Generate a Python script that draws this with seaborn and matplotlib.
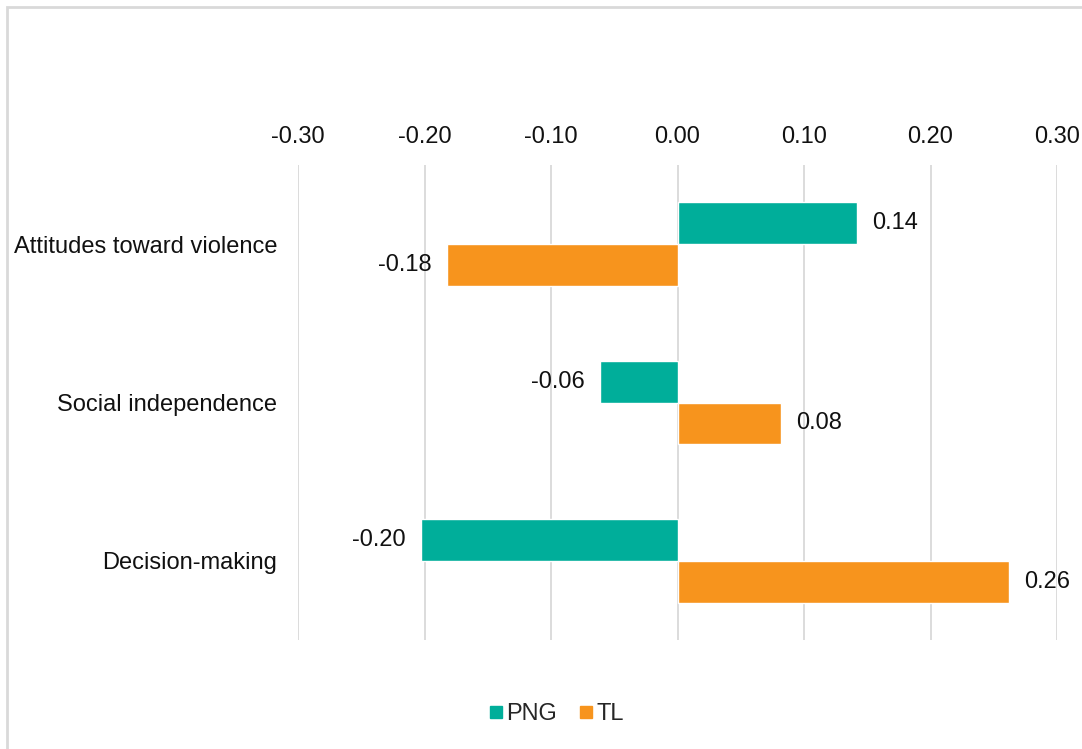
import numpy as np
import pandas as pd
import seaborn as sns
import matplotlib.pyplot as plt
from matplotlib.patches import Rectangle
from matplotlib.lines import Line2D

categories = ['Attitudes toward violence', 'Social independence', 'Decision-making']
png_vals = [0.142, -0.061, -0.203]
tl_vals = [-0.182, 0.082, 0.262]
xticks = [-0.30, -0.20, -0.10, 0.00, 0.10, 0.20, 0.30]

colors = {'PNG': '#00AE9A', 'TL': '#F7941D'}

df = pd.DataFrame({
    'category': categories * 2,
    'value': png_vals + tl_vals,
    'group': ['PNG'] * 3 + ['TL'] * 3,
})

sns.set_style("white")
plt.rcParams['font.family'] = ['Liberation Sans', 'DejaVu Sans']
fs = 17

fig = plt.figure(figsize=(10.82, 7.49), dpi=100)
ax = fig.add_axes([298 / 1082, 109 / 749, 759 / 1082, 475 / 749])

sns.barplot(data=df, x='value', y='category', hue='group', orient='h',
            palette=colors, width=0.53, ax=ax, legend=False, saturation=1)

for c in ax.containers:
    ax.bar_label(c, fmt='%.2f', padding=11, fontsize=fs, color='#111111')

ax.set_xlim(-0.30, 0.30)
ax.set_ylim(2.5, -0.5)
ax.set_xticks(xticks)
ax.set_xticklabels([f'{t:.2f}' for t in xticks])
ax.xaxis.tick_top()
ax.tick_params(axis='x', length=0, pad=12, labelsize=fs, colors='#111111')
ax.tick_params(axis='y', length=0, pad=15, labelsize=fs, colors='#111111')
ax.xaxis.grid(True, color='#D9D9D9', linewidth=1.3)
ax.set_axisbelow(True)
ax.set_xlabel('')
ax.set_ylabel('')
for s in ax.spines.values():
    s.set_visible(False)

handles = [Line2D([], [], marker='s', linestyle='', markersize=9,
                  color=colors[k]) for k in ['PNG', 'TL']]
fig.legend(handles, ['PNG', 'TL'], loc='center', bbox_to_anchor=(555 / 1082, 1 - 714 / 749),
           ncol=2, frameon=False, fontsize=fs, handletextpad=0.05, columnspacing=0.8,
           handlelength=0.8)

fig.add_artist(Rectangle((7 / 1082, -0.5), 2, 0.5 + 1 - 7 / 749, fill=False,
                         edgecolor='#D9D9D9', linewidth=2, transform=fig.transFigure))

fig.savefig('out.png', dpi=100)
